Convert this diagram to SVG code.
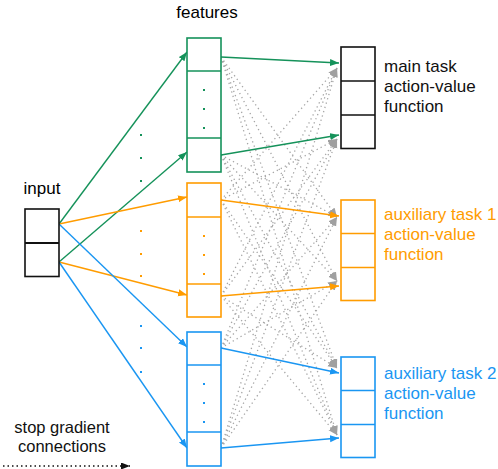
<svg xmlns="http://www.w3.org/2000/svg" width="498" height="469" viewBox="0 0 498 469">
<style>
text{font-family:"Liberation Sans",Arial,Helvetica,sans-serif;font-size:17px;}
.box{fill:#fff;stroke-width:1.6;}
.k{stroke:#111;}
.g{stroke:#15925a;}
.o{stroke:#ff9c00;}
.b{stroke:#1a96f2;}
.ln{fill:none;stroke-width:1.4;}
.gr{fill:none;stroke:#a6a6a6;stroke-width:1.3;stroke-dasharray:1.3 3.2;}
.dot-g{fill:#15925a;}
.dot-o{fill:#ff9c00;}
.dot-b{fill:#1a96f2;}
</style>
<defs>
<marker id="ag" markerUnits="userSpaceOnUse" markerWidth="10" markerHeight="8" refX="9" refY="3.5" orient="auto"><path d="M0,0 L9,3.5 L0,7 z" fill="#15925a"/></marker>
<marker id="ao" markerUnits="userSpaceOnUse" markerWidth="10" markerHeight="8" refX="9" refY="3.5" orient="auto"><path d="M0,0 L9,3.5 L0,7 z" fill="#ff9c00"/></marker>
<marker id="ab" markerUnits="userSpaceOnUse" markerWidth="10" markerHeight="8" refX="9" refY="3.5" orient="auto"><path d="M0,0 L9,3.5 L0,7 z" fill="#1a96f2"/></marker>
<marker id="ax" markerUnits="userSpaceOnUse" markerWidth="10" markerHeight="8" refX="9" refY="3.5" orient="auto"><path d="M0,0 L9,3.5 L0,7 z" fill="#a0a0a0"/></marker>
<marker id="ak" markerUnits="userSpaceOnUse" markerWidth="10" markerHeight="8" refX="9" refY="3.5" orient="auto"><path d="M0,0 L9,3.5 L0,7 z" fill="#111"/></marker>
</defs>

<g id="connectors">
<g id="stopgrad">
<path class="gr" d="M221,57 L337,217" marker-end="url(#ax)"/>
<path class="gr" d="M221,57 L337,281" marker-end="url(#ax)"/>
<path class="gr" d="M221,57 L337,368" marker-end="url(#ax)"/>
<path class="gr" d="M221,57 L337,435" marker-end="url(#ax)"/>
<path class="gr" d="M221,155 L337,217" marker-end="url(#ax)"/>
<path class="gr" d="M221,155 L337,281" marker-end="url(#ax)"/>
<path class="gr" d="M221,155 L337,368" marker-end="url(#ax)"/>
<path class="gr" d="M221,155 L337,435" marker-end="url(#ax)"/>
<path class="gr" d="M221,200 L337,68" marker-end="url(#ax)"/>
<path class="gr" d="M221,200 L337,139" marker-end="url(#ax)"/>
<path class="gr" d="M221,200 L337,368" marker-end="url(#ax)"/>
<path class="gr" d="M221,200 L337,435" marker-end="url(#ax)"/>
<path class="gr" d="M221,296 L337,68" marker-end="url(#ax)"/>
<path class="gr" d="M221,296 L337,139" marker-end="url(#ax)"/>
<path class="gr" d="M221,296 L337,368" marker-end="url(#ax)"/>
<path class="gr" d="M221,296 L337,435" marker-end="url(#ax)"/>
<path class="gr" d="M221,348 L337,68" marker-end="url(#ax)"/>
<path class="gr" d="M221,348 L337,139" marker-end="url(#ax)"/>
<path class="gr" d="M221,348 L337,217" marker-end="url(#ax)"/>
<path class="gr" d="M221,348 L337,281" marker-end="url(#ax)"/>
<path class="gr" d="M221,448 L337,68" marker-end="url(#ax)"/>
<path class="gr" d="M221,448 L337,139" marker-end="url(#ax)"/>
<path class="gr" d="M221,448 L337,217" marker-end="url(#ax)"/>
<path class="gr" d="M221,448 L337,281" marker-end="url(#ax)"/>
</g>
<path class="ln g" d="M59,224 L187,52" marker-end="url(#ag)"/>
<path class="ln g" d="M59,262 L187,152" marker-end="url(#ag)"/>
<path class="ln o" d="M59,224 L187,197" marker-end="url(#ao)"/>
<path class="ln o" d="M59,262 L187,295" marker-end="url(#ao)"/>
<path class="ln b" d="M59,224 L187,347" marker-end="url(#ab)"/>
<path class="ln b" d="M59,262 L187,448" marker-end="url(#ab)"/>
<path class="ln g" d="M221,57 L339,63" marker-end="url(#ag)"/>
<path class="ln g" d="M221,155 L339,135" marker-end="url(#ag)"/>
<path class="ln o" d="M221,200 L339,216" marker-end="url(#ao)"/>
<path class="ln o" d="M221,296 L339,286" marker-end="url(#ao)"/>
<path class="ln b" d="M221,348 L339,373" marker-end="url(#ab)"/>
<path class="ln b" d="M221,448 L339,438" marker-end="url(#ab)"/>
<path d="M3,466 L130,466" fill="none" stroke="#111" stroke-width="1.5" stroke-dasharray="1.5 3" marker-end="url(#ak)"/>
</g>

<g id="input">
<rect class="box k" x="25" y="209" width="34" height="67.5"/>
<line class="k" x1="25" y1="243" x2="59" y2="243" stroke-width="2"/>
<text x="42" y="194" text-anchor="middle">input</text>
</g>

<g id="features-label"><text x="207" y="18" text-anchor="middle">features</text></g>

<g id="features-green">
<rect class="box g" x="187" y="38" width="34" height="134"/>
<line class="g" x1="187" y1="71" x2="221" y2="71" stroke-width="1.6"/>
<line class="g" x1="187" y1="138" x2="221" y2="138" stroke-width="1.6"/>
<rect class="dot-g" x="203" y="89" width="2" height="2"/>
<rect class="dot-g" x="203" y="108" width="2" height="2"/>
<rect class="dot-g" x="203" y="127" width="2" height="2"/>
</g>
<g id="features-orange">
<rect class="box o" x="187" y="183" width="34" height="134"/>
<line class="o" x1="187" y1="217" x2="221" y2="217" stroke-width="1.6"/>
<line class="o" x1="187" y1="284" x2="221" y2="284" stroke-width="1.6"/>
<rect class="dot-o" x="203" y="235" width="2" height="2"/>
<rect class="dot-o" x="203" y="254" width="2" height="2"/>
<rect class="dot-o" x="203" y="273" width="2" height="2"/>
</g>
<g id="features-blue">
<rect class="box b" x="187" y="332" width="34" height="134"/>
<line class="b" x1="187" y1="365" x2="221" y2="365" stroke-width="1.6"/>
<line class="b" x1="187" y1="432" x2="221" y2="432" stroke-width="1.6"/>
<rect class="dot-b" x="203" y="383" width="2" height="2"/>
<rect class="dot-b" x="203" y="402" width="2" height="2"/>
<rect class="dot-b" x="203" y="421" width="2" height="2"/>
</g>

<g id="between-dots">
<rect class="dot-g" x="140" y="134" width="2" height="2"/>
<rect class="dot-g" x="140" y="157" width="2" height="2"/>
<rect class="dot-g" x="140" y="180" width="2" height="2"/>
<rect class="dot-o" x="140" y="230" width="2" height="2"/>
<rect class="dot-o" x="140" y="253" width="2" height="2"/>
<rect class="dot-o" x="140" y="275" width="2" height="2"/>
<rect class="dot-b" x="140" y="325" width="2" height="2"/>
<rect class="dot-b" x="140" y="347" width="2" height="2"/>
<rect class="dot-b" x="140" y="371" width="2" height="2"/>
</g>

<g id="out-main">
<rect class="box k" x="341" y="47" width="34" height="101.5"/>
<line class="k" x1="341" y1="81" x2="375" y2="81" stroke-width="1.6"/>
<line class="k" x1="341" y1="115" x2="375" y2="115" stroke-width="1.6"/>
<text x="384" y="72" fill="#111">main task</text>
<text x="384" y="92" fill="#111">action-value</text>
<text x="384" y="111.5" fill="#111">function</text>
</g>
<g id="out-aux1">
<rect class="box o" x="341" y="200" width="34" height="100.5"/>
<line class="o" x1="341" y1="233.5" x2="375" y2="233.5" stroke-width="1.6"/>
<line class="o" x1="341" y1="267.5" x2="375" y2="267.5" stroke-width="1.6"/>
<text x="384" y="220" fill="#ff9c00">auxiliary task 1</text>
<text x="384" y="240" fill="#ff9c00">action-value</text>
<text x="384" y="259.5" fill="#ff9c00">function</text>
</g>
<g id="out-aux2">
<rect class="box b" x="341" y="357" width="34" height="100.5"/>
<line class="b" x1="341" y1="390.5" x2="375" y2="390.5" stroke-width="1.6"/>
<line class="b" x1="341" y1="424.5" x2="375" y2="424.5" stroke-width="1.6"/>
<text x="384" y="379" fill="#1a96f2">auxiliary task 2</text>
<text x="384" y="399" fill="#1a96f2">action-value</text>
<text x="384" y="418.5" fill="#1a96f2">function</text>
</g>

<g id="legend">
<text x="62" y="433" text-anchor="middle" fill="#111" style="font-size:16.5px">stop gradient</text>
<text x="62" y="452" text-anchor="middle" fill="#111" style="font-size:16.5px">connections</text>
</g>
</svg>
